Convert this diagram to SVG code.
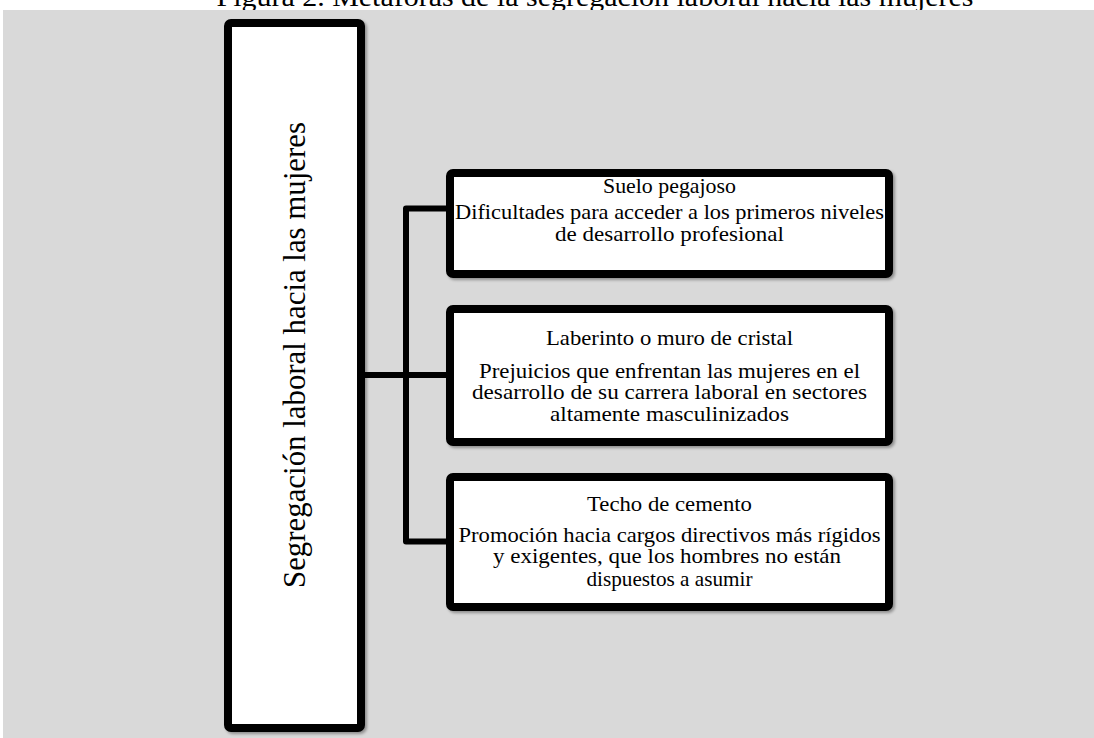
<svg xmlns="http://www.w3.org/2000/svg" width="1094" height="738" viewBox="0 0 1094 738">
<defs>
<filter id="sh" x="-5%" y="-5%" width="115%" height="115%">
<feGaussianBlur in="SourceAlpha" stdDeviation="1.5"/>
<feOffset dx="2" dy="2" result="b"/>
<feComponentTransfer><feFuncA type="linear" slope="0.35"/></feComponentTransfer>
<feMerge><feMergeNode/><feMergeNode in="SourceGraphic"/></feMerge>
</filter>
</defs>
<style>
.box{fill:#ffffff;stroke:#000000;stroke-width:8;filter:url(#sh)}
.t{font-family:"Liberation Serif","Times New Roman",serif;font-size:21px;fill:#000000;text-anchor:middle}
.conn{fill:none;stroke:#000000;stroke-width:6;stroke-linejoin:round}
</style>
<rect x="0" y="0" width="1094" height="738" fill="#ffffff"/>
<text x="595" y="6" class="t" style="font-size:28px" textLength="757" lengthAdjust="spacingAndGlyphs">Figura 2. Metáforas de la segregación laboral hacia las mujeres</text>
<rect x="3" y="10" width="1091" height="728" fill="#d9d9d9"/>
<g id="connectors">
<path class="conn" d="M365,375 H446"/>
<path class="conn" d="M446,208.5 H406 V541.5 H446"/>
</g>
<g id="root">
<rect class="box" x="228" y="23" width="133" height="705" rx="3"/>
<text class="t" transform="translate(305,355) rotate(-90)" x="0" y="0" style="font-size:32px" textLength="466" lengthAdjust="spacingAndGlyphs">Segregación laboral hacia las mujeres</text>
</g>
<g id="suelo">
<rect class="box" x="450" y="173" width="439" height="101" rx="3"/>
<text class="t" x="669.5" y="193" textLength="133" lengthAdjust="spacingAndGlyphs">Suelo pegajoso</text>
<text class="t" x="669.5" y="218.5" textLength="429" lengthAdjust="spacingAndGlyphs">Dificultades para acceder a los primeros niveles</text>
<text class="t" x="669.5" y="241" textLength="229" lengthAdjust="spacingAndGlyphs">de desarrollo profesional</text>
</g>
<g id="laberinto">
<rect class="box" x="450" y="309" width="439" height="133" rx="3"/>
<text class="t" x="669.5" y="345" textLength="247" lengthAdjust="spacingAndGlyphs">Laberinto o muro de cristal</text>
<text class="t" x="669.5" y="377.7" textLength="381" lengthAdjust="spacingAndGlyphs">Prejuicios que enfrentan las mujeres en el</text>
<text class="t" x="669.5" y="399.2" textLength="395" lengthAdjust="spacingAndGlyphs">desarrollo de su carrera laboral en sectores</text>
<text class="t" x="669.5" y="420.7" textLength="239" lengthAdjust="spacingAndGlyphs">altamente masculinizados</text>
</g>
<g id="techo">
<rect class="box" x="450" y="477" width="439" height="130" rx="3"/>
<text class="t" x="669.5" y="510.7" textLength="165" lengthAdjust="spacingAndGlyphs">Techo de cemento</text>
<text class="t" x="669.5" y="541.7" textLength="422" lengthAdjust="spacingAndGlyphs">Promoción hacia cargos directivos más rígidos</text>
<text class="t" x="667" y="563.3" textLength="348" lengthAdjust="spacingAndGlyphs">y exigentes, que los hombres no están</text>
<text class="t" x="669.5" y="585.5" textLength="166" lengthAdjust="spacingAndGlyphs">dispuestos a asumir</text>
</g>
</svg>
